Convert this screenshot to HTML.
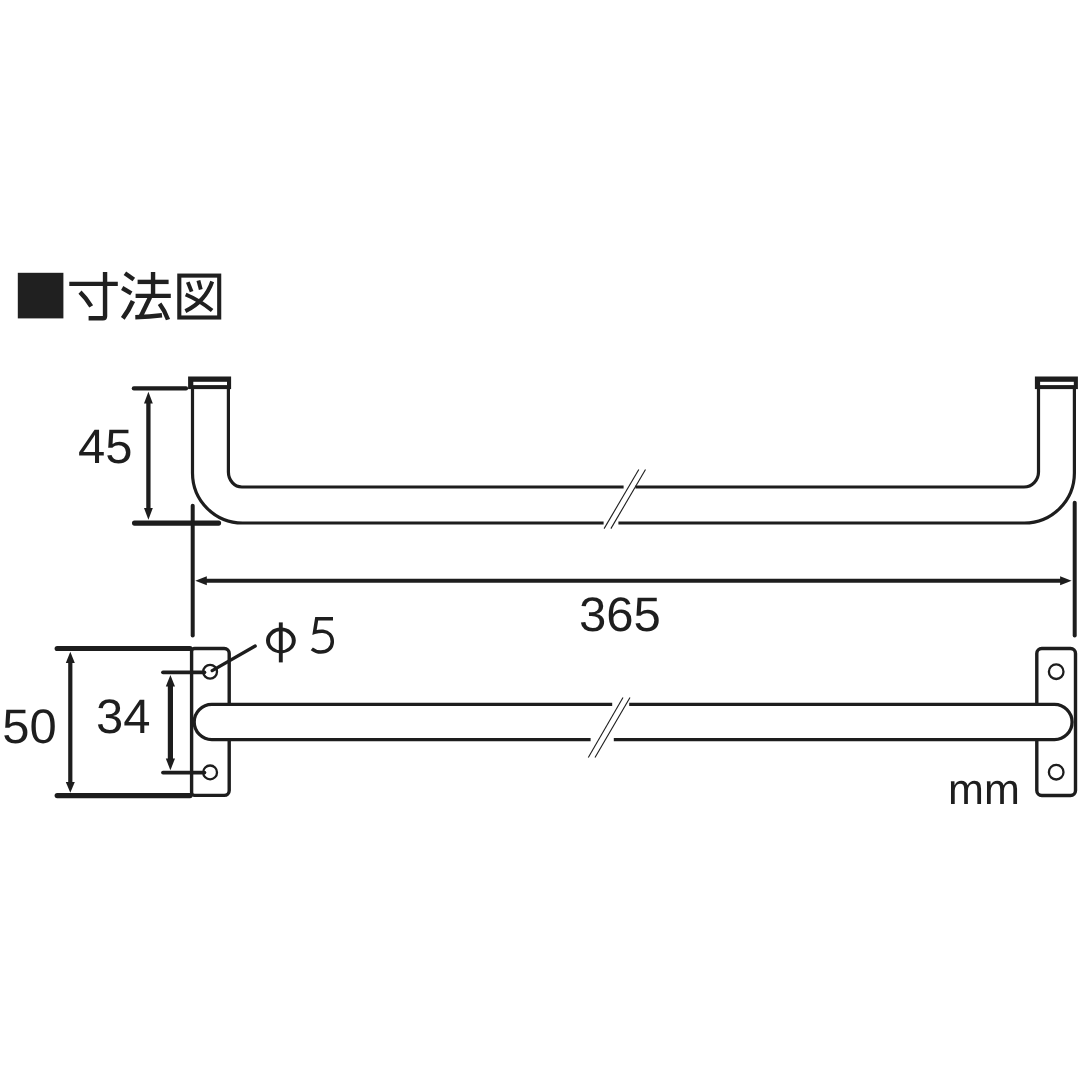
<!DOCTYPE html>
<html>
<head>
<meta charset="utf-8">
<title>Dimension drawing</title>
<style>
html,body{margin:0;padding:0;background:#fff;}
body{width:1080px;height:1080px;overflow:hidden;position:relative;font-family:"Liberation Sans",sans-serif;}
svg{position:absolute;left:0;top:0;display:block;filter:grayscale(1);}
text{font-family:"Liberation Sans",sans-serif;fill:#1e1e1e;text-rendering:geometricPrecision;}
</style>
</head>
<body>
<svg width="1080" height="1080" viewBox="0 0 1080 1080">
<rect x="0" y="0" width="1080" height="1080" fill="#ffffff"/>

<!-- ===== Title: black square + kanji drawn as strokes ===== -->
<rect x="17.8" y="272.8" width="45.6" height="45.6" fill="#231f20"/>
<g fill="none" stroke="#231f20" stroke-width="4.4" stroke-linecap="butt" stroke-linejoin="miter">
  <!-- sun -->
  <path d="M69.3 283.9 H117.8"/>
  <path d="M105.05 272.0 V316.2 Q105.05 318.2 103.0 318.2 H88.6"/>
  <path d="M80.0 292.2 Q86.6 298.6 91.2 306.4"/>
  <!-- hou -->
  <path d="M124.9 273.2 L133.8 279.5"/>
  <path d="M122.2 288.0 L131.3 293.3"/>
  <path d="M122.8 318.4 Q128.8 310.4 132.9 301.0" stroke-width="4.6"/>
  <path d="M153.05 272.0 V295.0"/>
  <path d="M137.6 281.9 H168.6"/>
  <path d="M135.6 295.85 H170.8"/>
  <path d="M150.0 297.4 L140.8 316.2"/>
  <path d="M135.3 317.2 Q150 316.8 162.0 315.3"/>
  <path d="M159.6 303.7 Q165.0 311.0 168.0 319.6"/>
</g>
<g fill="none" stroke="#231f20" stroke-linecap="butt" stroke-linejoin="miter">
  <!-- zu -->
  <rect x="179.3" y="275.6" width="39.9" height="41.9" stroke-width="4.1"/>
  <path d="M187.8 282.1 L191.6 291.6" stroke-width="3.9"/>
  <path d="M198.4 280.6 L200.8 289.5" stroke-width="3.9"/>
  <path d="M212.2 281.5 C208 294 200 304 185.4 311.1" stroke-width="4.0"/>
  <path d="M185.7 294.5 Q199.0 300.0 212.1 310.5" stroke-width="4.0"/>
</g>

<!-- ===== Top view: U-shaped bar ===== -->
<g fill="none" stroke="#1f1c1d" stroke-width="3.2" stroke-linecap="butt">
  <!-- outer contour -->
  <path d="M192.5 389 V473.0 A50 50 0 0 0 242.5 523.0 H603.6"/>
  <path d="M618.4 523.0 H1024.4 A50 50 0 0 0 1074.4 473.0 V389"/>
  <!-- inner contour -->
  <path d="M228.4 389 V472.0 A13.5 15 0 0 0 241.9 487.0 H623.6"/>
  <path d="M635.4 487.0 H1024.0 A14.5 15 0 0 0 1038.5 472.0 V389"/>
</g>
<!-- end caps -->
<g stroke="none">
  <rect x="188.1" y="376.5" width="43.0" height="12.6" fill="#1f1c1d"/>
  <rect x="193.3" y="381.8" width="33.7" height="3.3" fill="#fff"/>
  <rect x="1034.9" y="376.5" width="43.0" height="12.6" fill="#1f1c1d"/>
  <rect x="1040.1" y="381.8" width="33.7" height="3.3" fill="#fff"/>
</g>
<!-- break lines -->
<g fill="none" stroke="#1f1c1d" stroke-width="1.1">
  <path d="M638.8 469.5 L604.1 528.6"/>
  <path d="M645.5 469.5 L610.9 528.6"/>
</g>

<!-- ===== 45 dimension ===== -->
<g fill="none" stroke="#1f1c1d" stroke-linecap="round">
  <path d="M133.9 388.4 H186" stroke-width="4.3"/>
  <path d="M134.5 523.1 H218.6" stroke-width="5.1"/>
  <path d="M148.4 400 V511" stroke-width="4.3" stroke-linecap="butt"/>
</g>
<g fill="#1f1c1d">
  <path d="M148.4 391.8 L152.8 403.4 H144.0 Z"/>
  <path d="M148.4 519.7 L152.8 508.0 H144.0 Z"/>
</g>
<text transform="translate(77.9 462.9) scale(1.012 1)" font-size="48.4">45</text>

<!-- ===== 365 dimension ===== -->
<g fill="none" stroke="#1f1c1d" stroke-width="4" stroke-linecap="round">
  <path d="M192.7 505.8 V635.6"/>
  <path d="M1074.7 502.8 V635.6"/>
</g>
<path d="M205 580.8 H1062" fill="none" stroke="#1f1c1d" stroke-width="3.9"/>
<g fill="#1f1c1d">
  <path d="M195.3 580.8 L206.8 576.3 V585.3 Z"/>
  <path d="M1071.6 580.8 L1060.1 576.3 V585.3 Z"/>
</g>
<text transform="translate(578.9 631.4) scale(1.015 1)" font-size="48.4">365</text>

<!-- ===== Bottom view ===== -->
<g fill="#fff" stroke="#1f1c1d" stroke-width="3.4">
  <!-- left plate -->
  <path d="M194.6 648.5 H224.2 A5 5 0 0 1 229.2 653.5 V790.4 A5 5 0 0 1 224.2 795.4 H194.6 A3 3 0 0 1 191.6 792.4 V651.5 A3 3 0 0 1 194.6 648.5 Z"/>
  <!-- right plate -->
  <rect x="1036.8" y="648.5" width="38.7" height="147" rx="5" ry="5"/>
</g>
<!-- holes -->
<g fill="#fff" stroke="#1f1c1d" stroke-width="2.3">
  <circle cx="210.1" cy="671.8" r="6.9"/>
  <circle cx="210.1" cy="772.4" r="6.9"/>
  <circle cx="1056.2" cy="671.7" r="7.3"/>
  <circle cx="1056.2" cy="772.2" r="7.3"/>
</g>
<!-- bar with rounded ends (white fill hides plate lines) -->
<path d="M211.8 704.5 H1054.5 A17.5 17.5 0 0 1 1054.5 739.5 H211.8 A17.5 17.5 0 0 1 211.8 704.5 Z" fill="#fff" stroke="none"/>
<g fill="none" stroke="#1f1c1d" stroke-width="3.3">
  <path d="M612.2 704.4 H211.8 A17.5 17.5 0 0 0 211.8 739.6 H590.6"/>
  <path d="M629.2 704.4 H1054.5 A17.5 17.5 0 0 1 1054.5 739.6 H613.8"/>
</g>
<!-- break lines lower -->
<g fill="none" stroke="#1f1c1d" stroke-width="1.1">
  <path d="M623.0 697.5 L588.3 757.5"/>
  <path d="M630.0 697.5 L595.0 757.5"/>
</g>

<!-- ===== 50 dimension ===== -->
<g fill="none" stroke="#1f1c1d" stroke-linecap="round">
  <path d="M57.2 648.5 H190" stroke-width="5.2"/>
  <path d="M57.2 795.6 H190" stroke-width="5.2"/>
  <path d="M70.3 660 V784" stroke-width="4.2" stroke-linecap="butt"/>
</g>
<g fill="#1f1c1d">
  <path d="M70.3 651.8 L74.8 663.0 H65.8 Z"/>
  <path d="M70.3 792.8 L74.8 782.0 H65.8 Z"/>
</g>
<text transform="translate(2.3 743.2) scale(1.012 1)" font-size="48.4">50</text>

<!-- ===== 34 dimension ===== -->
<g fill="none" stroke="#1f1c1d" stroke-linecap="round">
  <path d="M163.0 672.3 H204.4" stroke-width="3.8"/>
  <path d="M163.0 772.6 H204.4" stroke-width="3.8"/>
  <path d="M170.4 684 V761" stroke-width="5.2" stroke-linecap="butt"/>
</g>
<g fill="#1f1c1d">
  <path d="M170.4 675.0 L175.0 686.6 H165.8 Z"/>
  <path d="M170.4 770.2 L175.0 758.6 H165.8 Z"/>
</g>
<text transform="translate(96.0 733.3) scale(1.012 1)" font-size="48.4">34</text>

<!-- ===== phi 5 leader ===== -->
<path d="M212.2 670.6 L255.2 646.0" fill="none" stroke="#1f1c1d" stroke-width="3.3" stroke-linecap="round"/>
<g fill="none" stroke="#1e1e1e" stroke-width="3.2">
  <path d="M280.8 622.4 V662.4" stroke-width="3.9"/>
  <path d="M333.0 618.7 H316.7 L314.5 632.4 C318.5 631.2 321.0 631.0 323.0 631.2 C328.6 631.8 332.3 635.6 332.3 641.4 C332.3 648.2 327.4 652.1 320.8 652.1 C317.4 652.1 314.4 650.8 311.8 648.8" stroke-width="3.5" stroke-linejoin="miter"/>
</g>
<path fill="#1e1e1e" fill-rule="evenodd" d="M266.0 640.5 A14.9 12.9 0 1 0 295.8 640.5 A14.9 12.9 0 1 0 266.0 640.5 Z M270.0 640.7 A10.9 9.6 0 1 0 291.8 640.7 A10.9 9.6 0 1 0 270.0 640.7 Z"/>

<!-- ===== unit ===== -->
<text transform="translate(948.0 804.3) scale(1.002 1)" font-size="43">mm</text>
</svg>
</body>
</html>
